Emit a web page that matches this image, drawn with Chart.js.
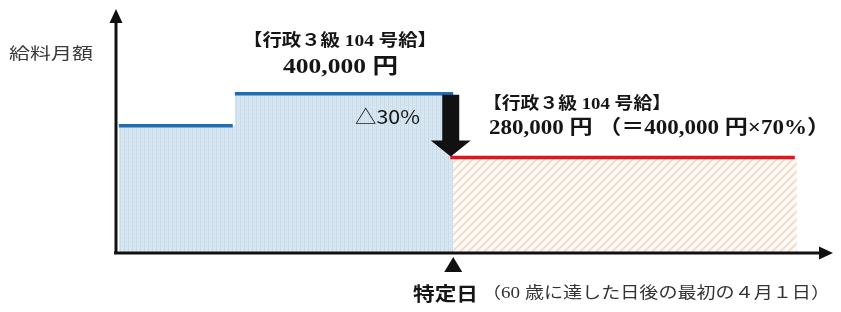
<!DOCTYPE html>
<html>
<head>
<meta charset="utf-8">
<script src="https://cdn.jsdelivr.net/npm/chart.js@4.4.0/dist/chart.umd.min.js"></script>
<style>
  html, body { margin: 0; padding: 0; background: #fff; }
  #wrap { width: 841px; height: 312px; }
</style>
</head>
<body>
<div id="wrap"><canvas id="salary-chart" width="841" height="312"></canvas></div>
<script>
// schematic time axis (0..100) and monthly salary (yen)
var segStart = [0.4, 16.6, 47.1];
var segEnd = [16.3, 47.1, 94.8];
var salary = [340000, 400000, 280000];
var labelGrade = "【行政３級 104 号給】";
var labelBefore = "400,000 円";
var labelAfter = "280,000 円 （＝400,000 円×70%）";
var labelCut = "△30%";
var yTitle = "給料月額";
var xMarker = "特定日";
var xMarkerNote = "（60 歳に達した日後の最初の４月１日）";

document.addEventListener("DOMContentLoaded", function() {
  var ctx = document.getElementById("salary-chart").getContext("2d");

  var makePattern = function(size, draw) {
    var c = document.createElement("canvas");
    c.width = size; c.height = size;
    var p = c.getContext("2d");
    draw(p, size);
    return ctx.createPattern(c, "repeat");
  };

  var bluePattern = makePattern(4, function(p, s) {
    p.fillStyle = "#d8e6f2";
    p.fillRect(0, 0, s, s);
    p.fillStyle = "#c8dbeb";
    p.fillRect(0, 0, 1, s);
    p.fillRect(2, 1, 1, 1);
  });

  var hatchPattern = makePattern(8, function(p, s) {
    p.fillStyle = "#fefbf8";
    p.fillRect(0, 0, s, s);
    p.strokeStyle = "#f3dccb";
    p.lineWidth = 2.2;
    p.beginPath();
    p.moveTo(-4, 4); p.lineTo(4, -4);
    p.moveTo(0, 8); p.lineTo(8, 0);
    p.moveTo(4, 12); p.lineTo(12, 4);
    p.stroke();
  });

  var lineColors = ["#1f6db3", "#1f6db3", "#e3131b"];

  var datasets = [];
  // step lines drawn on top (lower order)
  for (var i = 0; i < salary.length; i++) {
    datasets.push({
      data: [
        { x: segStart[i] + (i == 2 ? -0.4 : 0), y: salary[i] },
        { x: segEnd[i], y: salary[i] }
      ],
      fill: false,
      borderColor: lineColors[i],
      borderWidth: 3.5,
      pointRadius: 0,
      order: 0
    });
  }
  // blue area under the pre-cut salary
  datasets.push({
    data: [
      { x: segStart[0], y: salary[0] },
      { x: segStart[1], y: salary[1] },
      { x: segEnd[1], y: salary[1] }
    ],
    stepped: "before",
    fill: "start",
    backgroundColor: bluePattern,
    borderWidth: 0,
    pointRadius: 0,
    order: 1
  });
  // hatched area under the post-cut salary
  datasets.push({
    data: [
      { x: segStart[2], y: salary[2] },
      { x: segEnd[2] + 0.3, y: salary[2] }
    ],
    fill: "start",
    backgroundColor: hatchPattern,
    borderWidth: 0,
    pointRadius: 0,
    order: 1
  });

  var fitText = function(c, str, x, y, w, font, color) {
    c.font = font;
    c.fillStyle = color;
    c.textAlign = "left";
    c.textBaseline = "middle";
    var m = c.measureText(str).width;
    c.save();
    c.translate(x, y);
    c.scale(w / m, 1);
    c.fillText(str, 0, 0);
    c.restore();
  };

  var decorations = {
    id: "decorations",
    afterDatasetsDraw: function(chart) {
      var c = chart.ctx;
      var a = chart.chartArea;
      var xs = chart.scales.x, ys = chart.scales.y;
      c.save();
      c.fillStyle = "#111";
      c.strokeStyle = "#111";

      // y axis with arrow
      c.lineWidth = 3;
      c.beginPath();
      c.moveTo(a.left, a.bottom + 1);
      c.lineTo(a.left, a.top + 8);
      c.stroke();
      c.beginPath();
      c.moveTo(a.left, a.top - 1);
      c.lineTo(a.left - 6.5, a.top + 13);
      c.lineTo(a.left + 6.5, a.top + 13);
      c.closePath();
      c.fill();

      // x axis with arrow
      c.beginPath();
      c.moveTo(a.left - 2, a.bottom);
      c.lineTo(a.right - 8, a.bottom);
      c.stroke();
      c.beginPath();
      c.moveTo(a.right + 1, a.bottom);
      c.lineTo(a.right - 13, a.bottom - 6.5);
      c.lineTo(a.right - 13, a.bottom + 6.5);
      c.closePath();
      c.fill();

      // downward arrow for the cut
      var cx = xs.getPixelForValue(segStart[2]) - 2.5;
      var top = ys.getPixelForValue(salary[1]) + 1;
      var tip = ys.getPixelForValue(salary[2]) - 1;
      c.beginPath();
      c.moveTo(cx - 8.5, top);
      c.lineTo(cx + 8.5, top);
      c.lineTo(cx + 8.5, tip - 16);
      c.lineTo(cx + 20, tip - 16);
      c.lineTo(cx, tip);
      c.lineTo(cx - 20, tip - 16);
      c.lineTo(cx - 8.5, tip - 16);
      c.closePath();
      c.fill();

      // marker triangle under x axis
      var mx = xs.getPixelForValue(segStart[2]);
      c.beginPath();
      c.moveTo(mx, a.bottom + 4);
      c.lineTo(mx - 9, a.bottom + 19);
      c.lineTo(mx + 9, a.bottom + 19);
      c.closePath();
      c.fill();

      var jp = '"Noto Sans CJK JP", sans-serif';
      var mix = '"Liberation Serif", "Noto Sans CJK JP", serif';
      fitText(c, yTitle, 9, 53, 84, "16px " + jp, "#3a3a3a");
      fitText(c, labelGrade, 243, 42, 194, "bold 17px " + mix, "#151515");
      fitText(c, labelBefore, 283, 67, 115, "bold 22px " + mix, "#151515");
      fitText(c, labelCut, 355, 117, 65, "19px " + jp, "#151515");
      fitText(c, labelGrade, 483, 105, 188, "bold 17px " + mix, "#151515");
      fitText(c, labelAfter, 489, 129, 341, "bold 20px " + mix, "#151515");
      fitText(c, xMarker, 413, 294, 65, "bold 19px " + jp, "#151515");
      fitText(c, xMarkerNote, 482, 294, 348, "16px " + mix, "#333");
      c.restore();
    }
  };

  var salaryChart = new Chart(ctx, {
    type: "line",
    data: { datasets: datasets },
    options: {
      responsive: false,
      animation: false,
      layout: { padding: { left: 116, right: 9, top: 10, bottom: 59 } },
      scales: {
        x: { type: "linear", min: 0, max: 100, display: false },
        y: { min: 100000, max: 558000, display: false }
      },
      plugins: { legend: { display: false }, tooltip: { enabled: false } }
    },
    plugins: [decorations]
  });
});
</script>
</body>
</html>
